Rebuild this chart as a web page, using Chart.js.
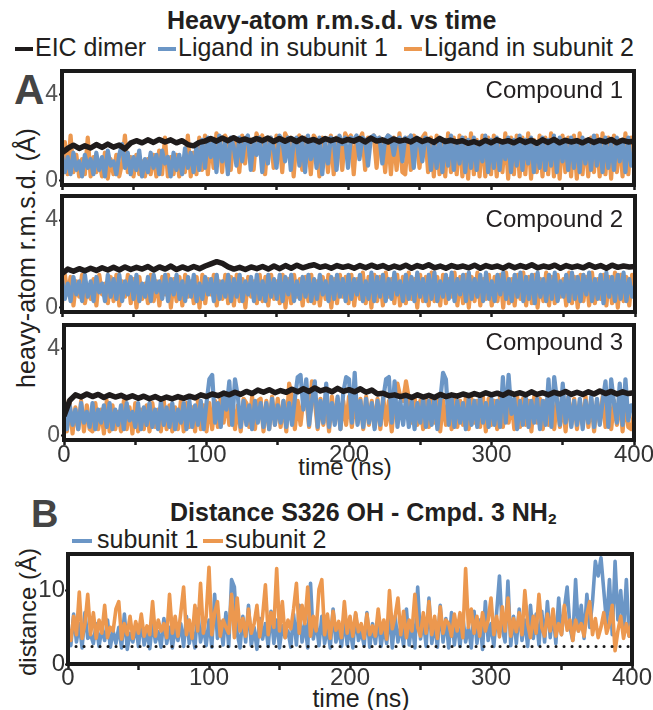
<!DOCTYPE html>
<html><head><meta charset="utf-8">
<script src="https://cdn.jsdelivr.net/npm/chart.js@4.4.1/dist/chart.umd.min.js"></script>
<style>
html,body{margin:0;padding:0;background:#fff;}
body{width:653px;height:710px;position:relative;overflow:hidden;font-family:"Liberation Sans",Arial,Helvetica,sans-serif;color:#231f20;}
.t{position:absolute;line-height:1;white-space:nowrap;}
.b{font-weight:bold;}
canvas{position:absolute;}
.dash{display:inline-block;width:18px;height:4px;vertical-align:5px;margin-right:2px;}
sub{font-size:0.62em;line-height:0;vertical-align:-0.22em;}
</style>
</head><body>
<div class="t b" style="left:167px;top:8px;font-size:25px;">Heavy-atom r.m.s.d. vs time</div>
<div class="t" style="left:15px;top:35px;font-size:25px;"><span class="dash" style="background:#1f1b1b"></span>EIC dimer</div>
<div class="t" style="left:158px;top:35px;font-size:25px;"><span class="dash" style="background:#6b96c6"></span>Ligand in subunit 1</div>
<div class="t" style="left:404px;top:35px;font-size:25px;"><span class="dash" style="background:#ec984f"></span>Ligand in subunit 2</div>
<div class="t b" style="left:14px;top:69px;font-size:42px;color:#444;">A</div>
<div class="t" style="left:26px;top:258px;font-size:25px;transform:translate(-50%,-50%) rotate(-90deg);">heavy-atom r.m.s.d. (Å)</div>
<div class="t" style="left:345px;top:455px;font-size:24px;transform:translateX(-50%);">time (ns)</div>
<div class="t b" style="left:31px;top:495px;font-size:38px;color:#444;">B</div>
<div class="t b" style="left:170px;top:500px;font-size:25px;">Distance S326 OH - Cmpd. 3 NH<sub>2</sub></div>
<div class="t" style="left:72px;top:527px;font-size:25px;"><span class="dash" style="background:#6b96c6;width:20px;margin-right:5px"></span>subunit 1</div>
<div class="t" style="left:203px;top:527px;font-size:25px;"><span class="dash" style="background:#ec984f;width:20px;margin-right:2px"></span>subunit 2</div>
<div class="t" style="left:28px;top:612px;font-size:24px;transform:translate(-50%,-50%) rotate(-90deg);">distance (Å)</div>
<div class="t" style="left:361px;top:686px;font-size:25px;transform:translateX(-50%);">time (ns)</div>

<canvas id="p1" width="638" height="126" style="left:18px;top:67px"></canvas>
<canvas id="p2" width="639" height="128" style="left:18px;top:191.5px"></canvas>
<canvas id="p3" width="636" height="153" style="left:20px;top:320.5px"></canvas>
<canvas id="pB" width="630" height="148" style="left:24px;top:549.5px"></canvas>
<div class="t" style="right:30px;top:78px;font-size:24px;">Compound 1</div>
<div class="t" style="right:30px;top:207px;font-size:24px;">Compound 2</div>
<div class="t" style="right:30px;top:330px;font-size:24px;">Compound 3</div>

<script>
// ---- sampling (ns between stored frames) ----
const dtLigand = 2;    // ligand / distance series: one value per 2 ns
const dtProtein = 4;   // EIC dimer series: one value per 4 ns
const timeTicks = [0,50,100,150,200,250,300,350,400];
const rmsdTicks = [0,4];
const distTicks = [0,10];
const hbondCutoff = 2.4;

// ---- Compound 1 ----
const c1Dimer = [1.3,1.5,1.65,1.5,1.62,1.52,1.68,1.55,1.7,1.56,
 1.66,1.48,1.75,1.86,1.76,1.9,1.78,1.92,1.8,1.9,
 1.76,1.86,1.68,1.62,1.78,1.84,1.96,1.84,1.98,1.86,
 2.0,1.86,1.94,1.84,1.96,1.86,1.98,1.82,1.96,1.84,
 1.96,1.82,1.98,1.84,1.92,1.8,1.96,1.86,1.94,1.82,
 1.92,1.84,1.96,1.8,1.98,1.84,1.9,1.8,1.94,1.84,
 1.9,1.8,1.96,1.82,1.92,1.78,1.96,1.82,1.88,1.8,
 1.86,1.74,1.82,1.72,1.88,1.76,1.9,1.8,1.86,1.76,
 1.9,1.78,1.88,1.74,1.9,1.78,1.92,1.76,1.88,1.8,
 1.86,1.76,1.9,1.78,1.88,1.8,1.92,1.76,1.88,1.8,1.84];
const c1Sub1 = [1.2,0.4,1.1,0.3,1.3,0.5,0.9,0.2,1.2,0.6,
 1.0,0.3,1.3,0.5,1.1,0.2,1.4,0.7,0.9,0.3,
 1.2,1.7,0.6,1.3,0.3,1.1,0.5,1.4,0.2,1.0,
 0.4,1.3,0.6,1.2,0.3,1.4,0.8,1.1,0.2,1.3,
 0.5,1.2,0.3,1.5,0.6,1.3,0.4,1.6,0.5,1.9,
 0.6,2.0,1.1,1.9,0.4,2.1,0.9,1.8,0.3,2.0,
 1.6,0.7,2.0,0.9,1.9,2.1,0.5,1.8,1.2,2.0,
 0.4,1.9,0.8,2.0,1.5,0.6,2.1,1.9,0.9,2.0,
 0.5,1.8,2.0,0.7,1.9,0.4,2.1,1.0,1.9,0.6,
 2.0,0.3,1.8,0.8,2.0,1.9,0.5,2.1,1.7,2.0,
 0.6,2.0,1.9,2.1,1.0,2.0,1.9,0.7,2.0,2.1,
 1.9,2.0,0.8,1.9,2.1,2.0,1.2,1.9,2.0,0.9,
 2.0,1.9,2.1,0.6,2.0,1.8,0.9,2.0,1.9,0.5,
 1.8,0.6,2.0,0.4,1.9,0.7,2.1,0.5,1.8,0.8,
 2.0,0.4,1.9,0.6,2.0,0.5,1.8,0.9,2.1,0.4,
 1.9,0.6,2.0,0.5,1.8,1.0,2.0,0.4,1.9,0.7,
 2.1,0.5,1.9,0.8,2.0,0.4,1.8,0.6,2.0,0.5,
 1.9,0.7,2.1,0.4,2.0,0.9,1.8,0.5,2.0,0.6,
 1.9,0.4,2.0,0.8,1.8,0.5,2.1,0.7,1.9,0.4,
 2.0,0.6,1.8,0.5,2.0,0.9,1.9,0.4,2.0,0.7,1.0];
const c1Sub2 = [0.2,1.8,0.3,2.1,0.4,1.2,0.2,1.0,0.3,2.0,
 0.2,1.1,0.4,0.9,0.2,1.3,0.1,1.0,0.3,1.2,
 0.2,0.8,2.1,0.4,1.1,0.2,1.2,0.3,0.9,0.2,
 1.0,0.3,1.2,0.2,1.4,0.3,2.0,0.2,1.1,0.3,
 1.2,0.2,1.0,0.4,2.1,0.2,1.3,0.3,2.0,0.5,
 2.1,0.3,1.9,0.6,2.2,1.9,0.4,2.1,1.8,0.5,
 2.0,1.9,0.4,2.1,0.8,2.0,1.9,0.5,2.2,1.8,
 2.1,0.3,1.9,2.0,0.6,2.1,1.9,0.4,2.2,1.9,
 2.0,0.2,1.9,2.1,0.5,2.0,1.8,0.3,2.1,1.9,
 0.2,2.0,1.9,0.4,2.1,0.3,2.0,1.9,0.5,2.2,
 1.9,2.1,0.3,2.0,1.9,2.2,0.5,2.0,1.9,2.1,
 0.6,2.0,1.9,0.4,2.1,0.3,2.0,0.5,2.2,0.4,
 0.3,2.0,0.5,2.1,1.9,0.6,2.0,2.2,0.4,2.0,
 0.2,2.1,0.3,1.9,0.2,2.2,0.4,2.0,0.3,2.1,
 0.2,2.0,0.1,2.2,0.3,1.9,0.2,2.1,0.2,2.0,
 0.3,2.1,0.2,1.9,0.4,2.2,0.1,2.0,0.3,2.1,
 0.2,2.0,0.3,2.2,0.1,1.9,0.4,2.1,0.2,2.0,
 0.3,2.2,0.2,1.9,0.1,2.1,0.4,2.0,0.2,2.1,
 0.1,2.2,0.3,1.9,0.2,2.0,0.4,2.1,0.2,2.2,
 0.3,2.0,0.1,2.1,0.4,1.9,0.2,2.2,0.3,2.0,1.5];

// ---- Compound 2 ----
const c2Dimer = [1.55,1.76,1.66,1.78,1.68,1.8,1.7,1.82,1.72,1.84,
 1.72,1.86,1.74,1.84,1.76,1.88,1.72,1.86,1.76,1.9,
 1.74,1.86,1.76,1.88,1.78,1.9,2.0,2.1,2.02,1.86,
 1.76,1.84,1.74,1.86,1.78,1.88,1.76,1.9,1.78,1.92,
 1.8,1.94,1.82,1.9,1.96,1.84,1.9,1.8,1.92,1.84,
 1.9,1.8,1.92,1.82,1.94,1.84,1.92,1.8,1.9,1.82,
 1.94,1.8,1.92,1.84,1.96,1.82,1.9,1.8,1.92,1.84,
 1.9,1.82,1.94,1.8,1.92,1.84,1.9,1.8,1.94,1.82,
 1.92,1.84,1.96,1.82,1.9,1.84,1.94,1.8,1.92,1.84,
 1.9,1.82,1.96,1.84,1.92,1.8,1.94,1.84,1.9,1.86,1.88];
const c2Sub1 = [1.3,0.4,1.1,0.3,1.4,0.6,1.2,0.3,1.5,0.5,
 1.2,0.3,1.4,0.7,1.1,0.3,1.5,0.5,1.3,0.4,
 1.5,0.3,1.2,0.6,1.4,0.4,1.5,0.3,1.1,0.5,
 1.4,0.3,1.5,0.7,1.2,0.4,1.5,0.3,1.3,0.6,
 1.5,0.4,1.2,0.3,1.4,0.5,1.5,0.3,1.1,0.4,
 1.4,0.6,1.3,0.3,1.5,0.4,1.2,0.5,1.5,0.3,
 1.3,0.5,1.5,0.3,1.2,0.6,1.4,0.3,1.5,0.4,
 1.2,0.3,1.5,0.5,1.3,0.4,1.5,0.3,1.4,0.6,
 1.5,0.3,1.2,0.4,1.4,0.5,1.5,0.3,1.3,0.4,
 1.5,0.6,1.2,0.3,1.4,0.4,1.5,0.5,1.3,0.3,
 1.5,0.4,1.3,0.6,1.5,0.3,1.2,0.4,1.6,0.3,
 1.4,0.5,1.5,0.3,1.3,0.4,1.6,0.6,1.2,0.3,
 1.5,0.4,1.4,0.3,1.6,0.5,1.3,0.3,1.5,0.4,
 1.6,0.3,1.2,0.5,1.5,0.4,1.6,0.3,1.3,0.6,
 1.5,0.3,1.6,0.4,1.3,0.5,1.5,0.3,1.6,0.4,
 1.2,0.3,1.5,0.6,1.6,0.4,1.3,0.3,1.5,0.5,
 1.6,0.3,1.4,0.4,1.5,0.2,1.6,0.5,1.3,0.3,
 1.5,0.4,1.6,0.3,1.2,0.5,1.5,0.3,1.6,0.4,
 1.4,0.3,1.5,0.6,1.6,0.3,1.3,0.4,1.5,0.2,
 1.6,0.5,1.4,0.3,1.5,0.4,1.6,0.3,1.3,0.5,1.0];
const c2Sub2 = [0.2,1.5,0.6,1.4,0.1,1.2,0.5,1.5,0.2,1.0,
 0.4,1.3,0.1,1.5,0.6,1.1,0.2,1.4,0.3,1.5,
 0.1,1.2,0.5,1.5,0.2,1.3,0.0,1.4,0.4,1.1,
 0.2,1.5,0.3,1.2,0.1,1.4,0.6,1.5,0.0,1.3,
 0.3,1.4,0.1,1.5,0.5,1.2,0.2,1.4,0.0,1.5,
 0.2,1.3,0.6,1.5,0.1,1.2,0.4,1.5,0.2,1.4,
 0.1,1.5,0.3,1.3,0.0,1.4,0.5,1.2,0.2,1.5,
 0.3,1.4,0.1,1.5,0.4,1.2,0.2,1.5,0.0,1.3,
 0.2,1.5,0.5,1.3,0.1,1.4,0.3,1.5,0.2,1.2,
 0.1,1.4,0.4,1.5,0.0,1.3,0.2,1.5,0.5,1.4,
 0.2,1.5,0.1,1.3,0.4,1.6,0.2,1.4,0.0,1.5,
 0.3,1.4,0.1,1.6,0.5,1.3,0.2,1.5,0.1,1.4,
 0.2,1.6,0.4,1.3,0.0,1.5,0.3,1.4,0.1,1.6,
 0.3,1.4,0.1,1.5,0.2,1.3,0.5,1.6,0.1,1.4,
 0.2,1.5,0.0,1.4,0.3,1.6,0.1,1.3,0.4,1.5,
 0.1,1.4,0.3,1.5,0.0,1.6,0.2,1.3,0.1,1.5,
 0.4,1.6,0.1,1.4,0.2,1.5,0.0,1.3,0.3,1.6,
 0.1,1.4,0.2,1.5,0.5,1.3,0.1,1.6,0.2,1.4,
 0.0,1.5,0.3,1.4,0.1,1.6,0.2,1.3,0.4,1.5,
 0.1,1.4,0.2,1.6,0.0,1.5,0.3,1.4,0.1,1.5,0.8];

// ---- Compound 3 ----
const c3Dimer = [0.9,1.62,1.88,1.78,1.92,1.8,1.9,1.76,1.88,1.78,
 1.86,1.74,1.84,1.72,1.82,1.7,1.8,1.68,1.78,1.7,
 1.8,1.72,1.82,1.74,1.88,1.8,1.92,1.84,1.96,1.88,
 2.0,1.9,2.04,1.94,2.1,2.0,2.12,1.98,2.08,2.0,
 2.14,2.02,2.16,2.04,2.2,2.06,2.14,2.02,2.18,2.04,
 2.12,2.02,2.16,2.0,2.1,1.92,1.96,1.84,1.88,1.8,
 1.86,1.76,1.88,1.78,1.86,1.76,1.9,1.8,1.88,1.82,
 1.92,1.84,1.94,1.86,1.98,1.88,1.96,1.86,2.0,1.9,
 1.98,1.88,2.02,1.9,1.98,1.88,2.0,1.92,2.04,1.9,
 2.0,1.9,2.02,1.92,2.06,1.94,2.04,1.92,2.02,1.94,1.98];
const c3Sub1 = [1.0,0.3,1.4,0.5,1.2,0.3,1.5,0.6,1.1,0.4,
 1.5,0.3,1.2,0.6,1.4,0.4,1.5,0.3,1.2,0.5,
 1.4,0.3,1.5,0.7,1.1,0.4,1.5,0.3,1.3,0.5,
 1.5,0.4,1.2,0.3,1.6,0.5,1.3,0.4,1.5,0.3,
 1.2,0.6,1.5,0.3,1.6,0.4,1.4,0.5,1.6,0.3,
 1.5,2.6,2.8,0.6,1.5,0.4,2.0,1.2,2.5,0.5,
 2.6,1.8,0.4,1.6,0.5,1.4,0.3,1.6,0.6,1.5,
 0.4,1.5,0.3,1.7,0.5,1.4,0.6,1.6,0.4,1.5,
 0.5,1.7,2.7,2.8,1.2,2.6,0.5,1.6,2.5,0.4,
 1.6,0.6,2.4,0.4,1.5,0.5,1.8,0.3,2.0,2.7,
 2.6,0.6,2.9,0.5,1.6,0.4,1.7,0.6,1.5,0.3,
 1.6,0.5,1.7,2.6,2.7,0.6,2.5,0.4,1.6,0.5,
 1.7,0.4,1.6,0.3,1.5,0.6,1.7,0.4,1.6,0.5,
 1.8,0.3,1.6,2.9,2.6,0.5,1.7,0.4,1.6,0.6,
 1.5,0.3,1.7,0.5,1.6,0.4,1.8,0.6,1.5,0.4,
 1.7,0.5,1.6,0.4,2.7,0.6,2.8,1.0,1.7,0.3,
 1.6,0.5,1.8,0.4,1.6,0.6,1.7,0.3,1.6,0.5,
 2.6,0.4,2.7,1.6,0.5,2.4,0.6,1.8,0.4,1.6,
 0.5,1.7,0.3,1.6,0.6,1.8,0.4,1.7,0.5,1.6,
 2.5,0.4,2.6,1.5,0.6,2.4,0.5,2.6,0.7,1.4,1.2];
const c3Sub2 = [1.7,0.2,1.5,0.1,1.3,0.3,1.6,0.2,1.4,0.3,
 0.2,1.5,0.3,1.2,0.1,1.6,0.2,1.4,0.3,1.1,
 0.2,1.6,0.3,1.3,0.1,1.5,0.2,1.2,0.3,1.4,
 0.2,1.5,0.4,1.2,0.2,1.6,0.3,1.4,0.2,1.3,
 0.3,1.6,0.2,1.5,0.4,1.3,0.2,1.6,0.3,1.4,
 0.2,1.5,0.3,1.6,0.4,1.8,0.6,1.7,0.5,1.6,
 0.3,1.4,0.2,1.7,1.5,0.4,1.8,0.3,1.6,1.7,
 0.2,1.6,0.3,1.8,0.5,1.7,0.4,1.6,0.2,2.4,
 1.8,0.3,1.6,0.5,1.7,1.8,0.4,2.5,1.6,0.3,
 1.7,0.5,1.6,0.2,1.8,0.6,1.7,0.3,1.6,0.5,
 1.8,0.4,1.6,0.6,1.7,0.3,1.8,0.5,1.6,0.4,
 1.7,0.3,1.8,0.5,1.6,0.2,1.7,2.4,1.8,1.6,
 2.5,1.7,0.6,1.8,0.5,1.6,0.3,1.7,0.4,1.8,
 0.6,1.7,0.2,1.6,0.5,1.8,0.3,1.7,0.4,1.6,
 0.5,1.8,0.3,1.7,0.6,1.6,0.4,1.8,0.2,1.7,
 0.5,1.6,0.3,1.8,0.4,1.7,0.6,1.6,0.3,1.8,
 0.4,1.7,0.5,1.6,0.2,1.8,0.6,1.7,0.3,1.6,
 0.5,1.8,0.3,1.7,0.4,1.6,0.2,1.8,0.5,1.7,
 0.3,1.6,0.5,1.8,0.4,1.7,0.2,1.6,0.6,1.8,
 0.4,1.7,0.3,1.6,0.5,1.8,0.2,1.7,0.4,0.3,1.0];

// ---- Panel B: distance S326 OH - Cmpd. 3 NH2 ----
const distSub1 = [4.5,2.5,6.8,3.0,5.5,2.2,7.0,3.5,4.0,2.8,
 5.5,2.4,4.8,3.2,6.0,2.3,4.5,2.8,5.0,2.2,
 6.8,2.0,4.2,3.0,5.2,2.4,6.0,2.6,4.5,2.1,
 5.8,3.0,4.4,2.3,6.2,2.8,5.0,2.2,4.8,3.2,
 5.5,2.4,6.5,2.8,4.6,2.2,7.5,3.0,5.2,2.5,
 6.0,2.3,9.5,3.5,5.8,2.6,7.0,2.4,11.5,10.5,
 4.2,2.2,6.5,3.0,8.0,2.5,5.0,2.0,6.2,3.4,
 5.5,2.4,7.2,2.8,6.0,2.2,5.2,3.6,4.5,2.3,
 6.8,2.6,8.0,3.0,5.5,2.2,11.0,3.4,5.8,2.5,
 6.5,2.8,5.0,2.2,7.5,3.0,4.6,2.4,6.2,2.6,
 5.0,2.2,6.8,3.2,4.4,2.5,7.0,2.3,5.5,2.8,
 6.2,2.4,5.0,2.8,7.0,2.2,6.5,3.0,5.2,2.5,
 7.5,2.6,5.8,2.2,10.5,3.4,6.0,2.4,9.0,2.8,
 5.5,2.3,8.0,3.0,6.2,2.2,7.0,2.6,5.8,2.4,
 6.5,3.0,5.0,2.2,7.2,2.8,6.0,2.0,8.5,3.2,
 5.5,2.4,7.0,12.0,4.8,3.0,11.3,2.5,6.5,2.8,
 7.5,3.2,6.0,2.4,8.0,3.5,6.8,2.6,7.2,3.0,
 8.5,3.6,7.0,2.8,9.0,4.0,7.5,10.5,5.0,3.2,
 11.5,4.5,8.0,3.5,9.5,5.0,8.5,14.0,12.0,14.5,
 10.0,5.5,11.5,4.0,14.0,6.0,10.0,4.5,11.5,3.8,5.0];
const distSub2 = [5.0,3.2,6.5,4.0,9.8,3.5,5.5,9.5,4.0,7.0,
 3.5,6.0,4.2,8.0,3.6,5.0,4.5,7.5,8.5,3.4,
 5.5,4.0,6.5,3.5,5.8,4.2,6.8,3.8,5.2,4.0,
 8.5,3.8,6.0,4.5,5.5,3.6,9.5,4.2,6.5,3.8,
 7.0,10.5,4.0,6.0,3.5,8.0,4.5,11.0,4.2,6.5,
 13.2,4.0,7.0,8.5,3.8,6.0,5.0,4.2,9.5,3.6,
 9.0,4.5,6.2,3.8,7.5,4.2,5.5,8.0,3.7,6.5,
 10.8,4.0,7.0,5.0,13.0,4.5,8.5,3.6,6.0,4.8,
 7.5,11.0,4.2,8.0,5.5,10.5,3.8,6.5,4.5,10.2,
 11.5,4.0,6.8,3.5,7.2,4.6,5.8,3.6,8.5,4.2,
 6.5,3.8,7.0,4.4,5.5,3.5,6.8,4.0,5.2,3.8,
 7.5,4.2,6.0,3.4,10.0,4.8,6.5,9.0,4.0,7.2,
 3.6,6.0,4.5,9.5,5.0,3.8,7.0,4.2,8.5,4.0,
 6.5,3.5,7.8,4.2,6.0,5.5,3.8,6.8,4.5,7.0,
 3.6,13.0,5.0,7.5,4.2,6.5,3.8,7.0,4.5,6.0,
 9.0,4.0,6.5,3.7,7.8,4.5,9.0,3.8,6.2,4.4,
 7.0,4.0,10.0,5.5,3.6,6.5,4.2,9.5,5.0,3.8,
 6.8,4.5,7.5,3.8,5.5,4.0,8.0,4.6,6.0,3.2,
 6.0,4.5,5.5,3.8,6.8,8.5,4.0,6.2,3.6,5.0,
 7.0,4.2,5.5,8.0,1.8,4.5,6.5,3.5,5.5,3.8,6.0];

// ---- styling ----
const BLACK = '#1f1b1b', BLUE = '#6b96c6', ORANGE = '#ec984f';
Chart.defaults.font.family = '"Liberation Sans", Arial, Helvetica, sans-serif';

function pts(vals, dt){ return vals.map((v,i)=>({x:i*dt, y:v})); }
function line(vals, dt, color, width, extra){
  return Object.assign({data:pts(vals,dt), borderColor:color, borderWidth:width, pointRadius:0,
    fill:false, tension:0, borderJoinStyle:'round', borderCapStyle:'butt'}, extra||{});
}
const framePlugin = {id:'frame', afterDatasetsDraw(chart){
  const {ctx, chartArea:a} = chart; ctx.save(); ctx.strokeStyle='#1a1a1a'; ctx.lineWidth=4;
  ctx.strokeRect(a.left, a.top, a.right-a.left, a.bottom-a.top); ctx.restore(); }};

function panel(id, datasets, o){
  return new Chart(document.getElementById(id), {
    type:'line',
    data:{datasets},
    plugins:[framePlugin],
    options:{
      responsive:false, animation:false, devicePixelRatio:1,
      layout:{padding:{top:4, right:22, left:0, bottom:0}},
      plugins:{legend:{display:false}, tooltip:{enabled:false}},
      scales:{
        x:{type:'linear', min:0, max:400,
          afterBuildTicks:s=>{s.ticks = timeTicks.map(v=>({value:v}));},
          afterFit:s=>{s.height = o.xH; s.paddingLeft = 0; s.paddingRight = 0;},
          border:{display:false},
          grid:{drawOnChartArea:false, drawTicks:true, tickLength:o.xTick, tickWidth:2.5, tickColor:'#1a1a1a'},
          ticks:{padding:o.xPad, color:'#333', font:{size:24, lineHeight:1}, maxRotation:0, autoSkip:false,
            callback:v=> (o.xLabels && v%100===0) ? String(v) : ''}},
        y:{type:'linear', min:o.yMin, max:o.yMax,
          afterBuildTicks:s=>{s.ticks = o.yTicks.map(v=>({value:v}));},
          afterFit:s=>{s.width = 44; s.paddingTop = 0; s.paddingBottom = 0;},
          border:{display:false},
          grid:{drawOnChartArea:false, drawTicks:true, tickLength:3, tickWidth:2, tickColor:'#1a1a1a'},
          ticks:{padding:o.yPad, color:o.yColor, font:{size:o.yFont, lineHeight:1}}}
      }
    }
  });
}

const LW = 4.2, DW = 5.5;
const rmsdOpts = {yMin:-0.2, yMax:5.1, yTicks:rmsdTicks, yColor:'#555', yFont:23, yPad:1, xTick:5, xPad:-1.5};
panel('p1', [line(c1Dimer,dtProtein,BLACK,DW), line(c1Sub1,dtLigand,BLUE,LW), line(c1Sub2,dtLigand,ORANGE,LW)],
  Object.assign({}, rmsdOpts, {xH:8, xLabels:false}));
panel('p2', [line(c2Dimer,dtProtein,BLACK,DW), line(c2Sub1,dtLigand,BLUE,LW), line(c2Sub2,dtLigand,ORANGE,LW)],
  Object.assign({}, rmsdOpts, {xH:8, xLabels:false}));
panel('p3', [line(c3Dimer,dtProtein,BLACK,DW), line(c3Sub1,dtLigand,BLUE,LW), line(c3Sub2,dtLigand,ORANGE,LW)],
  Object.assign({}, rmsdOpts, {xH:34, xLabels:true}));
panel('pB', [
  {data:[{x:0,y:hbondCutoff},{x:400,y:hbondCutoff}], borderColor:'#1a1a1a', borderWidth:3, borderDash:[0.1,7.9],
    borderCapStyle:'round', pointRadius:0, fill:false},
  line(distSub2,dtLigand,ORANGE,3.6), line(distSub1,dtLigand,BLUE,3.6)],
  {yMin:0, yMax:15, yTicks:distTicks, yColor:'#333', yFont:24, yPad:0, xTick:6, xPad:-3.5, xH:34, xLabels:true});
</script>
</body></html>
